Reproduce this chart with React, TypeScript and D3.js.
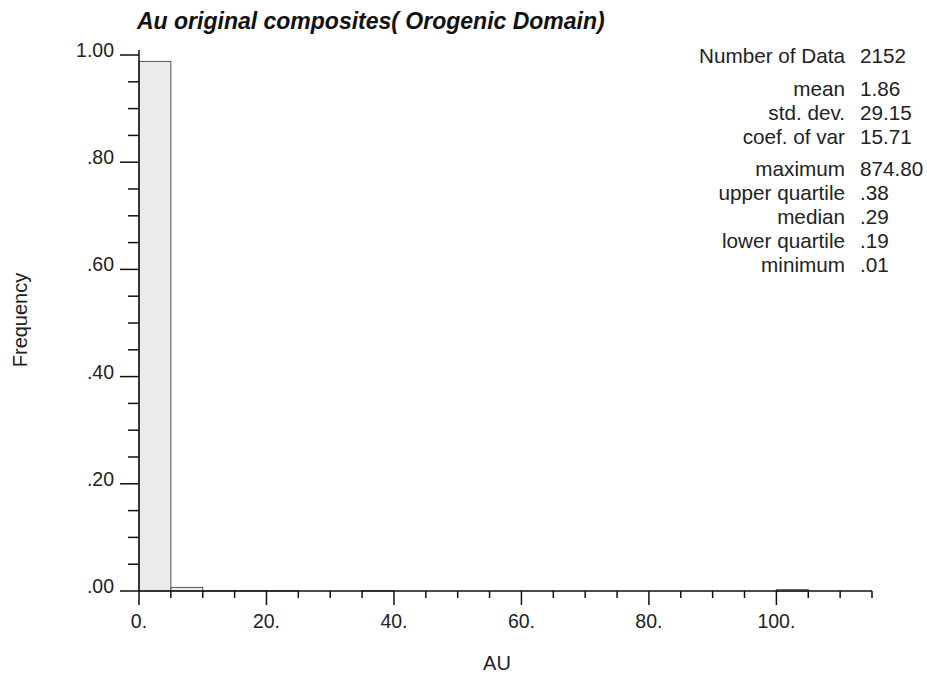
import React from "react";
import * as d3 from "d3";

const binStarts = [0, 5, 10, 15, 20, 25, 30, 35, 40, 45, 50, 55, 60, 65, 70, 75, 80, 85, 90, 95, 100, 105, 110];
const frequencies = [0.988, 0.0067, 0.0005, 0.0005, 0.0005, 0, 0, 0.0005, 0, 0, 0, 0, 0, 0, 0, 0, 0, 0, 0, 0, 0.0025, 0, 0];
const binWidth = 5;

const yTicks = [0, 0.05, 0.1, 0.15, 0.2, 0.25, 0.3, 0.35, 0.4, 0.45, 0.5, 0.55, 0.6, 0.65, 0.7, 0.75, 0.8, 0.85, 0.9, 0.95, 1.0];
const yMajor = [0, 0.2, 0.4, 0.6, 0.8, 1.0];
const xTicks = d3.range(0, 116, 5);
const xMajor = [0, 20, 40, 60, 80, 100];

const statLabels = ["Number of Data", "mean", "std. dev.", "coef. of var", "maximum", "upper quartile", "median", "lower quartile", "minimum"];
const statValues = ["2152", "1.86", "29.15", "15.71", "874.80", ".38", ".29", ".19", ".01"];
const statBaselines = [63, 96, 120, 144, 176, 200, 224, 248, 272];

const title = "Au original composites( Orogenic Domain)";
const xTitle = "AU";
const yTitle = "Frequency";

const W = 927;
const H = 676;
const FONT = "'Liberation Sans', Arial, Helvetica, sans-serif";

export default function App() {
  const x = d3.scaleLinear().domain([0, 115]).range([139, 872]);
  const y = d3.scaleLinear().domain([0, 1]).range([591, 55]);
  const fmtY = (v: number) => {
    const s = d3.format(".2f")(v);
    return s.startsWith("0") ? s.slice(1) : s;
  };
  const isMajorY = (v: number) => yMajor.some((m) => Math.abs(m - v) < 1e-9);
  const isMajorX = (v: number) => xMajor.includes(v);

  return (
    <svg width={W} height={H} style={{ position: "absolute", left: 0, top: 0, background: "#fff" }} fontFamily={FONT}>
      <rect x={0} y={0} width={W} height={H} fill="#fff" />
      {/* bars */}
      {binStarts.map((b, i) => (
        <rect
          key={i}
          x={x(b)}
          y={y(frequencies[i])}
          width={x(b + binWidth) - x(b)}
          height={Math.max(0, y(0) - y(frequencies[i]))}
          fill="#ebebeb"
          stroke="#555"
          strokeWidth={1}
        />
      ))}
      {/* y axis */}
      <line x1={x(0)} x2={x(0)} y1={y(1) - 5} y2={y(0)} stroke="#111" strokeWidth={1.5} />
      {yTicks.map((t, i) => (
        <line
          key={i}
          x1={x(0) - (isMajorY(t) ? 19 : 11)}
          x2={x(0)}
          y1={y(t)}
          y2={y(t)}
          stroke="#111"
          strokeWidth={1.5}
        />
      ))}
      {yMajor.map((t, i) => (
        <text key={i} x={114} y={y(t) + 2} textAnchor="end" fontSize={19.5} fill="#222">
          {fmtY(t)}
        </text>
      ))}
      {/* x axis */}
      <line x1={x(0)} x2={x(115)} y1={y(0)} y2={y(0)} stroke="#111" strokeWidth={1.5} />
      {xTicks.map((t, i) => (
        <line
          key={i}
          x1={x(t)}
          x2={x(t)}
          y1={y(0)}
          y2={y(0) + (isMajorX(t) ? 14 : 7)}
          stroke="#111"
          strokeWidth={1.5}
        />
      ))}
      {xMajor.map((t, i) => (
        <text key={i} x={x(t)} y={628} textAnchor="middle" fontSize={19.5} fill="#222">
          {t + "."}
        </text>
      ))}
      {/* titles */}
      <text x={137} y={29} fontSize={23} fontWeight="bold" fontStyle="italic" fill="#111">
        {title}
      </text>
      <text x={497} y={670} textAnchor="middle" fontSize={20} fill="#222">
        {xTitle}
      </text>
      <text transform={`translate(27,320) rotate(-90)`} textAnchor="middle" fontSize={20} fill="#222">
        {yTitle}
      </text>
      {/* stats */}
      {statLabels.map((l, i) => (
        <g key={i}>
          <text x={845} y={statBaselines[i]} textAnchor="end" fontSize={20.7} fill="#222">
            {l}
          </text>
          <text x={860} y={statBaselines[i]} fontSize={20.7} fill="#222">
            {statValues[i]}
          </text>
        </g>
      ))}
    </svg>
  );
}
